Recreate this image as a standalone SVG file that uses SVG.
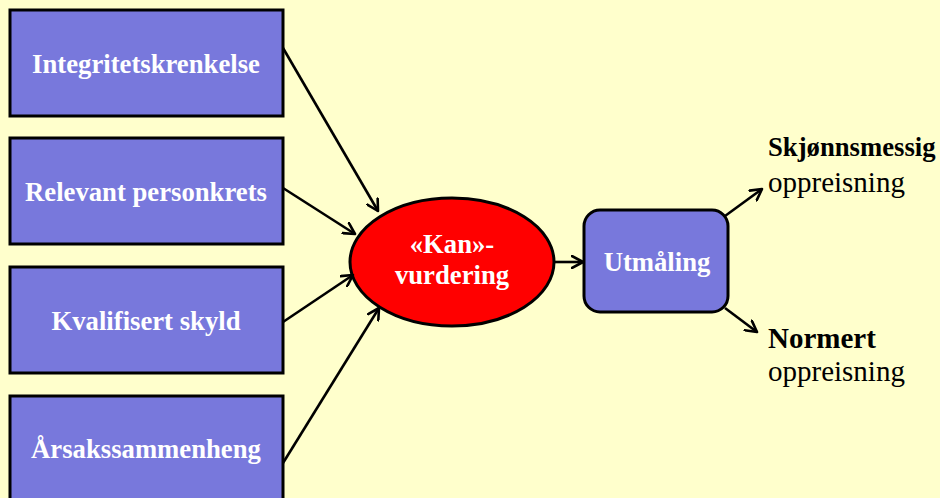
<svg xmlns="http://www.w3.org/2000/svg" width="940" height="498" viewBox="0 0 940 498">
<defs>
<marker id="arr" viewBox="0 0 14 14" refX="12" refY="7" markerWidth="14" markerHeight="14" markerUnits="userSpaceOnUse" orient="auto">
<polyline points="1,1 12,7 1,13" fill="none" stroke="#000" stroke-width="2.6" stroke-linecap="round" stroke-linejoin="round"/>
</marker>
<style>
.box{fill:#7878DC;stroke:#000;stroke-width:3}
.bt{font-family:'Liberation Serif','Times New Roman',Tinos,'DejaVu Serif',serif;font-weight:bold;font-size:26.7px;fill:#fff;text-anchor:middle}
.con{stroke:#000;stroke-width:2.6;fill:none;marker-end:url(#arr)}
.lbl{font-family:'Liberation Serif','Times New Roman',Tinos,'DejaVu Serif',serif;fill:#000}
</style>
</defs>
<rect x="0" y="0" width="940" height="498" fill="#FFFFCC"/>
<g id="n1"><rect class="box" x="10" y="10" width="273" height="106"/><text class="bt" x="146" y="73">Integritetskrenkelse</text></g>
<g id="n2"><rect class="box" x="10" y="138" width="273" height="106"/><text class="bt" x="146" y="201">Relevant personkrets</text></g>
<g id="n3"><rect class="box" x="10" y="267" width="273" height="106"/><text class="bt" x="146" y="330">Kvalifisert skyld</text></g>
<g id="n4"><rect class="box" x="10" y="396" width="273" height="106"/><text class="bt" x="146" y="458">Årsakssammenheng</text></g>
<g id="kan"><ellipse cx="452" cy="262" rx="102" ry="64" fill="#FF0000" stroke="#000" stroke-width="3"/><text class="bt" x="452" y="253">«Kan»-</text><text class="bt" x="452" y="284">vurdering</text></g>
<g id="utm"><rect class="box" x="584" y="210" width="144" height="102" rx="16"/><text class="bt" x="657" y="271">Utmåling</text></g>
<g id="out1"><text class="lbl" x="768" y="156" font-weight="bold" font-size="26.7">Skjønnsmessig</text><text class="lbl" x="768" y="192" font-size="29">oppreisning</text></g>
<g id="out2"><text class="lbl" x="768" y="348" font-weight="bold" font-size="29">Normert</text><text class="lbl" x="768" y="381" font-size="29">oppreisning</text></g>
<g id="connectors">
<line class="con" x1="283" y1="48" x2="378" y2="211"/>
<line class="con" x1="283" y1="188" x2="355" y2="234"/>
<line class="con" x1="283" y1="322" x2="353" y2="275"/>
<line class="con" x1="283" y1="463" x2="379" y2="308"/>
<line class="con" x1="555" y1="262" x2="583" y2="262"/>
<line class="con" x1="725" y1="216" x2="762" y2="189"/>
<line class="con" x1="725" y1="308" x2="757" y2="332"/>
</g>
</svg>
